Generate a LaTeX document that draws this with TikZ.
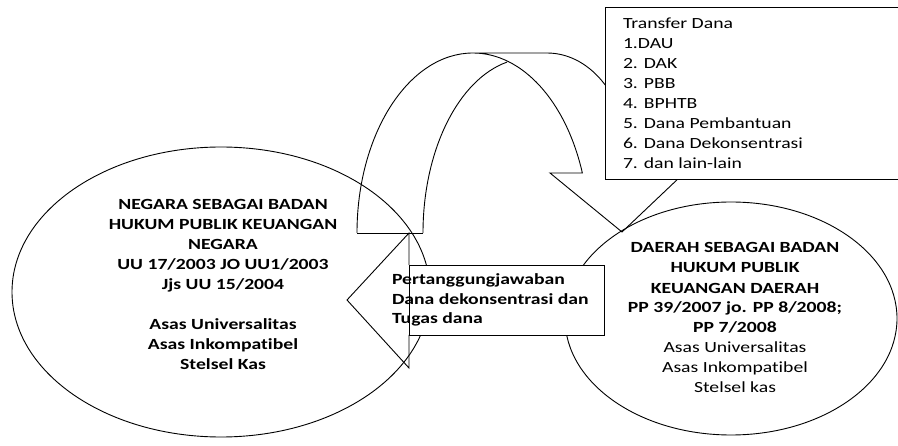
\documentclass[tikz,border=0pt]{standalone}
\usepackage{fontspec}
\setmainfont{Carlito}[FakeStretch=1.27, Ligatures=NoCommon]
\usetikzlibrary{shapes.geometric}
\begin{document}
\begin{tikzpicture}[x=1pt,y=-1pt,
  outline/.style={draw=black, line width=0.9pt},
  txt/.style={inner sep=0pt, outer sep=0pt, text=black},
  txtreg/.style={txt, font=\fontsize{15.5}{20}\selectfont},
  txtbold/.style={txt, font=\fontsize{15.5}{20}\selectfont\bfseries},
  txtcall/.style={txt, font=\fontsize{15.5}{19.5}\selectfont\bfseries},
  ]
\useasboundingbox (0,0) rectangle (898,446);
\clip (0,0) rectangle (898,446);
\fill[white] (0,0) rectangle (898,446);

% the two ellipses
\node[ellipse, outline, minimum width=418pt, minimum height=290pt, inner sep=0pt] (negara) at (221,292) {};
\node[ellipse, outline, minimum width=332pt, minimum height=233pt, inner sep=0pt] (daerah) at (731,318.5) {};

% curved (U-turn) arrow
\draw[outline, line join=miter] (357,233) coordinate (cbl)
  arc[start angle=180, end angle=340.53, x radius=116, y radius=180] coordinate (cin)
  -- (550,173) coordinate (cbarb) -- (622,232) coordinate (ctip) -- (700,158) coordinate (cbarbr)
  -- (628,158) arc[start angle=0, end angle=-90, x radius=81, y radius=105] coordinate (ctopr)
  -- (473,53) coordinate (ctopl);
\draw[outline] (423,233) coordinate (cbr)
  arc[start angle=180, end angle=257.6, x radius=107, y radius=175];
\draw[outline] (cbl) -- (cbr);

% left-pointing callout
\draw[outline, line join=miter] (409,265) -- (409,233) -- (347,300) coordinate (calltip) -- (409,368) -- (409,335);
\draw[outline, fill=white] (409,265) rectangle (604,335);
\node[txtcall, anchor=base west, align=left] (calltext) at (392,324)
  {Pertanggungjawaban\\Dana dekonsentrasi dan\\Tugas dana};

% transfer box
\draw[outline, fill=white] (605,7) rectangle (910,179);
\node[txtreg, anchor=base west, align=left] (transfer) at (623,169)
  {Transfer Dana\\1.DAU\\2. DAK\\3. PBB\\4. BPHTB\\5. Dana Pembantuan\\6. Dana Dekonsentrasi\\7. dan lain-lain};

% ellipse texts
\node[txtbold, anchor=base, align=center] (negaratext) at (223,370)
  {NEGARA SEBAGAI BADAN\\HUKUM PUBLIK KEUANGAN\\NEGARA\\UU 17/2003 JO UU1/2003\\Jjs UU 15/2004\\[20pt]Asas Universalitas\\Asas Inkompatibel\\Stelsel Kas};
\node[txtreg, anchor=base, align=center] (daerahtext) at (735,393)
  {\textbf{DAERAH SEBAGAI BADAN}\\\textbf{HUKUM PUBLIK}\\\textbf{KEUANGAN DAERAH}\\\textbf{PP 39/2007 jo. PP 8/2008;}\\\textbf{PP 7/2008}\\Asas Universalitas\\Asas Inkompatibel\\Stelsel kas};
\end{tikzpicture}
\end{document}
